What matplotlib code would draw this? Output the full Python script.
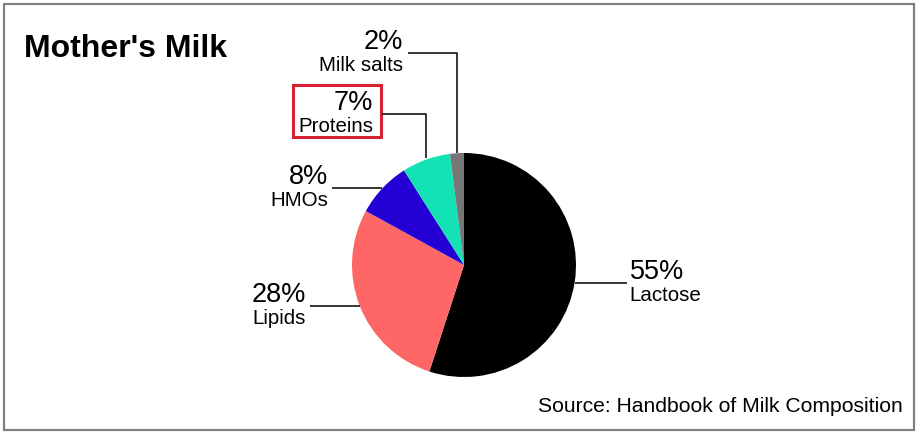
import numpy as np
import matplotlib
matplotlib.use("Agg")
import matplotlib.pyplot as plt
from matplotlib.patches import Rectangle

# ---- data ----
categories = ["Lactose", "Lipids", "HMOs", "Proteins", "Milk salts"]
values = [55, 28, 8, 7, 2]
pct_labels = ["55%", "28%", "8%", "7%", "2%"]
colors = ["#000000", "#FF6666", "#2400D4", "#12E2B4", "#767676"]

title = "Mother's Milk"
source = "Source: Handbook of Milk Composition"

W, H = 918, 436
plt.rcParams['font.family'] = ['Liberation Sans', 'DejaVu Sans']

fig = plt.figure(figsize=(W / 100, H / 100), dpi=100)
ax = fig.add_axes([0, 0, 1, 1])


def py(y):
    return H - y


cx, cy, R = 464, py(265), 112
wedges, _ = ax.pie(values, colors=colors, startangle=90, counterclock=False,
                   center=(cx, cy), radius=R, wedgeprops=dict(linewidth=0))
ax.set_xlim(0, W)
ax.set_ylim(0, H)
ax.set_aspect('auto')
ax.axis('off')

PCT_FS, LAB_FS = 19.5, 14.8
lc = dict(color='black', lw=1.1, solid_capstyle='butt')


def edge_point(w):
    th = np.deg2rad((w.theta1 + w.theta2) / 2)
    return cx + R * np.cos(th), cy + R * np.sin(th)


def put_labels(x, ly, pct, lab, ha):
    ax.text(x, ly + 4, pct, fontsize=PCT_FS, ha=ha, va='baseline')
    ax.text(x, ly - 18, lab, fontsize=LAB_FS, ha=ha, va='baseline')


# Lactose (right)
ex, ey = edge_point(wedges[0])
ax.plot([ex, ex + 52], [ey, ey], **lc)
put_labels(ex + 55, ey, pct_labels[0], categories[0], 'left')

# Lipids (left)
ex, ey = edge_point(wedges[1])
ax.plot([ex, ex - 50], [ey, ey], **lc)
put_labels(ex - 54, ey, pct_labels[1], categories[1], 'right')

# HMOs (left)
ex, ey = edge_point(wedges[2])
ax.plot([ex, ex - 50], [ey, ey], **lc)
put_labels(ex - 54, ey, pct_labels[2], categories[2], 'right')

# Proteins (up then left, boxed)
ex, ey = edge_point(wedges[3])
ty = py(114)
ax.plot([ex, ex, 382], [ey + 2, ty, ty], **lc)
put_labels(373, ty, pct_labels[3], categories[3], 'right')
ax.add_patch(Rectangle((293, py(137)), 88, 52, fill=False,
                       edgecolor='#D42030', lw=2.2))

# Milk salts (up then left)
ex, ey = edge_point(wedges[4])
ty = py(53)
ax.plot([ex, ex, 408], [ey, ty, ty], **lc)
put_labels(403, ty, pct_labels[4], categories[4], 'right')

# Title and source
ax.text(24, py(57), title, fontsize=23, fontweight='bold', ha='left', va='baseline')
ax.text(903, py(412), source, fontsize=15.2, ha='right', va='baseline')

# Frame
ax.add_patch(Rectangle((4, py(430)), 910, 426, fill=False,
                       edgecolor='#808080', lw=1.6))

fig.savefig("out.png", dpi=100)
